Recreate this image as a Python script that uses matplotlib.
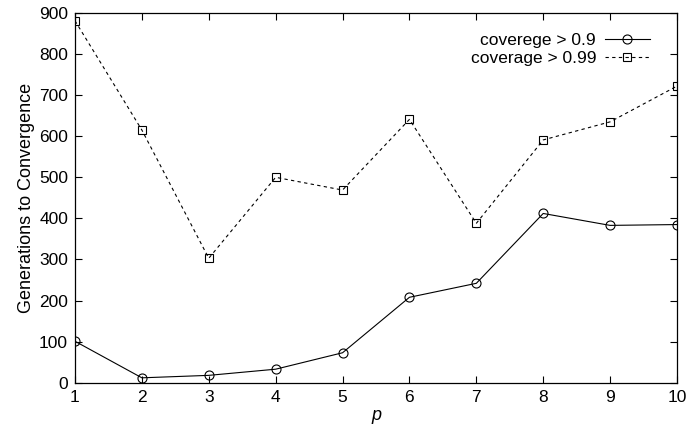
import matplotlib
matplotlib.use("Agg")
import matplotlib.pyplot as plt

p = [1, 2, 3, 4, 5, 6, 7, 8, 9, 10]
cov_90 = [101, 12, 18, 33, 73, 208, 242, 412, 383, 385]
cov_99 = [881, 615, 303, 500, 469, 641, 388, 591, 635, 722]
labels = ["coverege > 0.9", "coverage > 0.99"]
yticks = [0, 100, 200, 300, 400, 500, 600, 700, 800, 900]

plt.rcParams['font.family'] = ['Liberation Sans', 'DejaVu Sans']
plt.rcParams['font.size'] = 12.5

fig = plt.figure(figsize=(6.88, 4.32), dpi=100)
ax = fig.add_axes([0.109, 0.114, 0.875, 0.856])

ax.plot(p, cov_90, color='black', lw=0.8, marker='o', markersize=6.5,
        markerfacecolor='none', markeredgewidth=0.8, label=labels[0])
ax.plot(p, cov_99, color='black', lw=0.8, linestyle=(0, (3, 3)), marker='s',
        markersize=6, markerfacecolor='none', markeredgewidth=0.8, label=labels[1])

ax.set_xlim(1, 10)
ax.set_ylim(0, 900)
ax.set_xticks(p)
ax.set_yticks(yticks)
ax.tick_params(direction='in', length=5, width=0.8, top=True, right=True, pad=5)
ax.set_xlabel('p', style='italic', labelpad=2, fontsize=13)
ax.set_ylabel('Generations to Convergence', labelpad=3, fontsize=13)
for s in ax.spines.values():
    s.set_linewidth(0.9)

ax.legend(loc='upper right', bbox_to_anchor=(0.955, 0.945), frameon=False,
          markerfirst=False, handlelength=2.6, handletextpad=0.5,
          labelspacing=0.15, borderaxespad=0, borderpad=0)

fig.savefig('out.png', dpi=100)
